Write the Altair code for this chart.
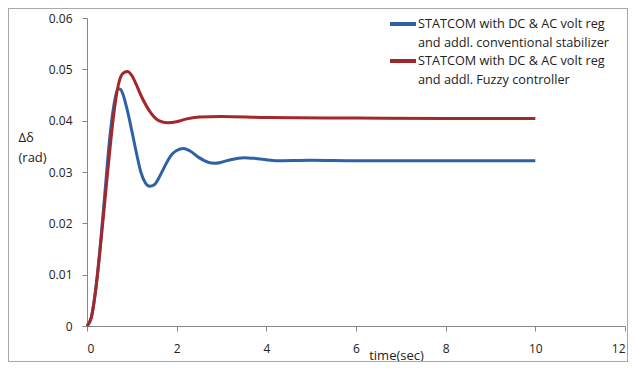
import altair as alt
import pandas as pd

# --- data ---
t_blue = [0, 0.1, 0.2, 0.3, 0.4, 0.5, 0.6, 0.7, 0.75, 0.8, 0.9, 1.0, 1.1, 1.2, 1.3, 1.4, 1.5, 1.6, 1.7, 1.8,
          1.9, 2.0, 2.15, 2.3, 2.5, 2.7, 2.85, 3.0, 3.2, 3.5, 3.8, 4.2, 5.0, 6.0, 8.0, 10.0]
v_blue = [0, 0.0018, 0.0075, 0.0160, 0.0260, 0.0360, 0.0430, 0.0462, 0.0461, 0.0452, 0.0420, 0.0380, 0.0338,
          0.0300, 0.0279, 0.0272, 0.0275, 0.0288, 0.0305, 0.0322, 0.0335, 0.0342, 0.0346, 0.0341, 0.0328,
          0.0319, 0.0317, 0.0319, 0.0324, 0.0328, 0.0326, 0.0322, 0.0323, 0.0322, 0.0322, 0.0322]
t_red = [0, 0.1, 0.2, 0.3, 0.4, 0.5, 0.6, 0.7, 0.8, 0.9, 1.0, 1.1, 1.2, 1.4, 1.6, 1.8, 2.0, 2.2, 2.5, 3.0,
         4.0, 6.0, 8.0, 10.0]
v_red = [0, 0.0018, 0.0075, 0.0155, 0.0245, 0.0335, 0.0415, 0.0470, 0.0492, 0.0496, 0.0488, 0.0470, 0.0450,
         0.0418, 0.0400, 0.0396, 0.0398, 0.0403, 0.0407, 0.0408, 0.0406, 0.0405, 0.0404, 0.0404]

series_names = ["conventional", "fuzzy"]
legend_text = ["STATCOM with DC & AC volt reg\nand addl. conventional stabilizer",
               "STATCOM with DC & AC volt reg\nand addl. Fuzzy controller"]
colors = ["#2F62A5", "#A2282B"]
x_ticks = [0, 2, 4, 6, 8, 10, 12]
y_ticks = [0, 0.01, 0.02, 0.03, 0.04, 0.05, 0.06]

df = pd.concat([
    pd.DataFrame({"t": t_blue, "v": v_blue, "series": series_names[0], "order": range(len(t_blue))}),
    pd.DataFrame({"t": t_red, "v": v_red, "series": series_names[1], "order": range(len(t_red))}),
])

FONT = "Open Sans"
W, H = 538, 308
PAD = {"left": 79, "top": 10, "right": 3, "bottom": 36}

lines = alt.Chart(df).mark_line(strokeWidth=3, interpolate="monotone").encode(
    x=alt.X("t:Q", scale=alt.Scale(domain=[0, 12], nice=False),
            axis=alt.Axis(values=x_ticks, title="time(sec)", grid=False, tickSize=5,
                          labelPadding=12, titleX=309, titleY=33, titleAlign="center",
                          titleBaseline="alphabetic", titleFontWeight="normal", titleFontSize=13)),
    y=alt.Y("v:Q", scale=alt.Scale(domain=[0, 0.06], nice=False),
            axis=alt.Axis(values=y_ticks, format=".2~f", title=["Δδ", "(rad)"], grid=False,
                          tickSize=5, labelPadding=10, titleAngle=0, titleAlign="left",
                          titleX=-69, titleY=123, titleBaseline="alphabetic",
                          titleFontWeight="normal", titleFontSize=13, titleLineHeight=20)),
    color=alt.Color("series:N", scale=alt.Scale(domain=series_names, range=colors), legend=None),
    order="order:Q",
)

legend_layers = []
for i, (txt, col) in enumerate(zip(legend_text, colors)):
    y0 = 6 + i * 37
    legend_layers.append(
        alt.Chart(df).mark_rule(strokeWidth=2.5, color=col).encode(
            x=alt.value(303), x2=alt.value(329), y=alt.value(y0)))
    legend_layers.append(
        alt.Chart(pd.DataFrame({"label": [txt]})).mark_text(
            align="left", baseline="middle", lineBreak="\n", lineHeight=18.5,
            font=FONT, fontSize=12.7, color="#222222").encode(
            x=alt.value(331), y=alt.value(y0), text="label:N"))

# light grey frame around the whole picture
fx0, fy0 = -PAD["left"] + 0.5, -PAD["top"] + 0.5
fx1, fy1 = W + PAD["right"] - 0.5, H + PAD["bottom"] - 0.5
frame = [
    alt.Chart(df).mark_rule(color="#A8A8A8", strokeWidth=1).encode(
        x=alt.value(fx0), x2=alt.value(fx1), y=alt.value(fy0)),
    alt.Chart(df).mark_rule(color="#A8A8A8", strokeWidth=1).encode(
        x=alt.value(fx0), x2=alt.value(fx1), y=alt.value(fy1)),
    alt.Chart(df).mark_rule(color="#A8A8A8", strokeWidth=1).encode(
        x=alt.value(fx0), y=alt.value(fy0), y2=alt.value(fy1)),
    alt.Chart(df).mark_rule(color="#A8A8A8", strokeWidth=1).encode(
        x=alt.value(fx1), y=alt.value(fy0), y2=alt.value(fy1)),
]

chart = alt.layer(lines, *legend_layers, *frame).properties(
    width=W, height=H,
    padding=PAD,
    autosize=alt.AutoSizeParams(type="none"),
    background="white",
).configure_view(stroke=None).configure_axis(
    domainColor="#888888", tickColor="#888888", labelColor="#222222", titleColor="#222222",
    labelFont=FONT, titleFont=FONT, labelFontSize=12,
)

chart.save("out.html", embed_options={"renderer": "svg", "actions": False})
